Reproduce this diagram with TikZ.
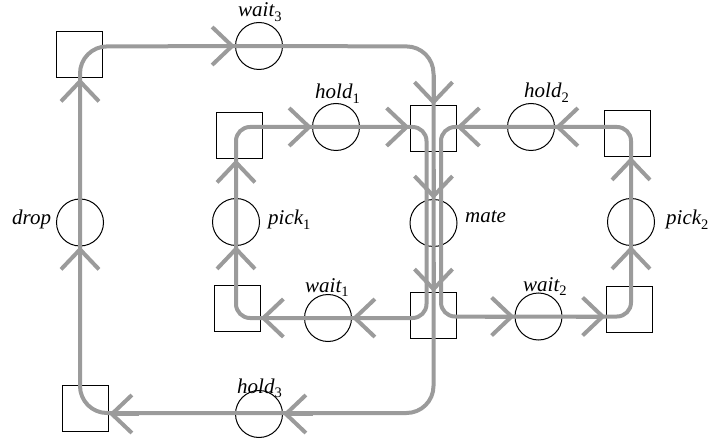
\documentclass[tikz,border=0pt]{standalone}
\usepackage{fontspec}
\setmainfont{Liberation Serif}
\usetikzlibrary{arrows.meta}
\definecolor{flowgray}{RGB}{155,155,155}
% upright subscript index in the label font
\newcommand{\idx}[1]{\raisebox{-4.5pt}{\fontsize{14.5}{16}\selectfont\upshape #1}}
\begin{document}
\begin{tikzpicture}[x=1pt,y=-1pt,
  place/.style={circle,draw,line width=1pt,minimum size=47pt,inner sep=0pt},
  trans/.style={rectangle,draw,line width=1pt,minimum size=46pt,inner sep=0pt},
  flow/.style={draw=flowgray,line width=4pt},
  tip/.style={draw=flowgray,line width=4pt,-{Straight Barb[length=20pt,width=38pt]}},
  lab/.style={anchor=base west,inner sep=0pt,font=\fontsize{21}{25}\selectfont\itshape}]
\useasboundingbox (0,0) rectangle (711,443);

% transitions
\node[trans] (TLo) at (79.5,55) {};
\node[trans] (BLo) at (85.5,408) {};
\node[trans] (T1)  at (239.5,136) {};
\node[trans] (BLi) at (237,308) {};
\node[trans] (T)   at (433,128.5) {};
\node[trans] (B)   at (433,315.5) {};
\node[trans] (TR)  at (627,133.5) {};
\node[trans] (BR)  at (629,309) {};

% places
\node[place] (wait3) at (259,46) {};
\node[place] (hold3) at (259,414) {};
\node[place] (drop)  at (80,222.5) {};
\node[place] (hold1) at (336,127) {};
\node[place] (pick1) at (236,222) {};
\node[place] (wait1) at (328,318) {};
\node[place] (mate)  at (433.5,223) {};
\node[place] (hold2) at (531,127) {};
\node[place] (pick2) at (631,222) {};
\node[place] (wait2) at (538.5,316.5) {};

% labels
\node[lab] (lwait3) at (238,17)  {wait\idx{3}};
\node[lab] (lhold1) at (315,99)  {hold\idx{1}};
\node[lab] (lhold2) at (524,98)  {hold\idx{2}};
\node[lab] (ldrop)  at (12,225)  {drop};
\node[lab] (lpick1) at (268,225) {pick\idx{1}};
\node[lab] (lmate)  at (465,223) {mate};
\node[lab] (lpick2) at (666,225) {pick\idx{2}};
\node[lab] (lwait1) at (305,292) {wait\idx{1}};
\node[lab] (lwait2) at (523,291) {wait\idx{2}};
\node[lab] (lhold3) at (237,393) {hold\idx{3}};

% loop corners
\coordinate (oNW) at (80,46.5);
\coordinate (oNE) at (433.5,46.5);
\coordinate (oSE) at (433.5,413);
\coordinate (oSW) at (80,413);
\coordinate (lNW) at (236,127);
\coordinate (lNE) at (426.5,127);
\coordinate (lSE) at (426.5,318);
\coordinate (lSW) at (236,318);
\coordinate (rNW) at (441,127);
\coordinate (rNE) at (631,127);
\coordinate (rSE) at (631,316.5);
\coordinate (rSW) at (441,316.5);

% the three loops
\draw[flow,rounded corners=27pt] (wait3.center) -- (oNE) -- (oSE) -- (oSW) -- (oNW) -- cycle;
\draw[flow,rounded corners=14pt] (hold1.center) -- (lNE) -- (lSE) -- (lSW) -- (lNW) -- cycle;
\draw[flow,rounded corners=14pt] (hold2.center) -- (rNE) -- (rSE) -- (rSW) -- (rNW) -- cycle;

% arrowheads: outer loop
\draw[tip] ([xshift=-30pt]wait3.west) -- (wait3.west);
\draw[tip] ([yshift=30pt]mate |- T.north) -- (mate |- T.north);
\draw[tip] ([yshift=30pt]mate.north) -- (mate.north);
\draw[tip] ([yshift=30pt]mate |- B.north) -- (mate |- B.north);
\draw[tip] ([xshift=30pt]hold3.east) -- (hold3.east);
\draw[tip] ([xshift=30pt]BLo.east |- hold3) -- (BLo.east |- hold3);
\draw[tip] ([yshift=-30pt]drop.south) -- (drop.south);
\draw[tip] ([yshift=-30pt]drop |- TLo.south) -- (drop |- TLo.south);

% arrowheads: left loop
\draw[tip] ([xshift=-30pt]hold1.west) -- (hold1.west);
\draw[tip] ([xshift=-30pt]T.west |- hold1) -- (T.west |- hold1);
\draw[tip] ([xshift=30pt]wait1.east) -- (wait1.east);
\draw[tip] ([xshift=30pt]BLi.east |- wait1) -- (BLi.east |- wait1);
\draw[tip] ([yshift=-30pt]pick1.south) -- (pick1.south);
\draw[tip] ([yshift=-30pt]pick1 |- T1.south) -- (pick1 |- T1.south);

% arrowheads: right loop
\draw[tip] ([xshift=30pt]hold2.east) -- (hold2.east);
\draw[tip] ([xshift=30pt]T.east |- hold2) -- (T.east |- hold2);
\draw[tip] ([xshift=-30pt]wait2.west) -- (wait2.west);
\draw[tip] ([xshift=-30pt]BR.west |- wait2) -- (BR.west |- wait2);
\draw[tip] ([yshift=-30pt]pick2.south) -- (pick2.south);
\draw[tip] ([yshift=-30pt]pick2 |- TR.south) -- (pick2 |- TR.south);
\end{tikzpicture}
\end{document}
